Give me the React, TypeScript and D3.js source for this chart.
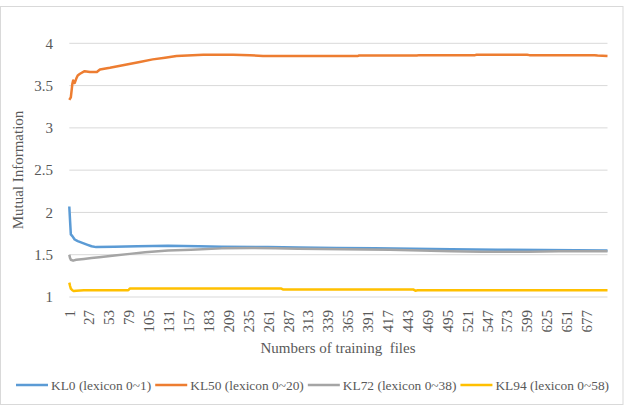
import { useRef, useEffect } from 'react';
import * as d3 from 'd3';

const kl0Files = [1, 2, 3, 5, 8, 12, 18, 24, 30, 36, 60, 90, 130, 170, 200, 260, 300, 350, 400, 450, 500, 560, 620, 704];
const kl0Values = [2.07, 1.9, 1.74, 1.72, 1.68, 1.66, 1.64, 1.62, 1.6, 1.59, 1.595, 1.6, 1.605, 1.6, 1.595, 1.59, 1.585, 1.58, 1.575, 1.57, 1.565, 1.56, 1.555, 1.55];

const kl50Files = [1, 3, 5, 6, 8, 10, 12, 15, 21, 28, 37, 41, 54, 76, 93, 110, 126, 141, 176, 215, 237, 254, 302, 378, 379, 455, 458, 531, 533, 599, 602, 687, 691, 704];
const kl50Values = [3.33, 3.36, 3.52, 3.56, 3.53, 3.58, 3.62, 3.64, 3.67, 3.66, 3.66, 3.69, 3.71, 3.75, 3.78, 3.81, 3.83, 3.85, 3.865, 3.865, 3.86, 3.85, 3.85, 3.85, 3.855, 3.855, 3.86, 3.86, 3.865, 3.865, 3.86, 3.86, 3.855, 3.85];

const kl72Files = [1, 2, 3, 6, 10, 20, 30, 40, 60, 80, 100, 130, 160, 200, 240, 270, 300, 360, 420, 460, 500, 540, 600, 640, 704];
const kl72Values = [1.5, 1.46, 1.44, 1.43, 1.44, 1.45, 1.46, 1.47, 1.49, 1.51, 1.53, 1.55, 1.56, 1.575, 1.58, 1.575, 1.57, 1.565, 1.56, 1.55, 1.54, 1.535, 1.535, 1.54, 1.54];

const kl94Files = [1, 2, 3, 5, 7, 10, 20, 78, 80, 278, 280, 450, 453, 456, 458, 704];
const kl94Values = [1.17, 1.13, 1.1, 1.08, 1.07, 1.075, 1.08, 1.08, 1.1, 1.1, 1.09, 1.09, 1.075, 1.08, 1.08, 1.08];

const seriesNames = ['KL0 (lexicon 0~1)', 'KL50 (lexicon 0~20)', 'KL72 (lexicon 0~38)', 'KL94 (lexicon 0~58)'];
const seriesColors = ['#5B9BD5', '#ED7D31', '#A5A5A5', '#FFC000'];

const yTicks = [1, 1.5, 2, 2.5, 3, 3.5, 4];
const xTicks = d3.range(1, 700, 26); // 1, 27, 53 ... 677
const fileCount = 704;

export default function App() {
  const svgRef = useRef<SVGSVGElement>(null);

  useEffect(() => {
    if (!svgRef.current) return;
    const width = 626;
    const height = 408;
    const font = "'Liberation Serif', 'DejaVu Serif', serif";
    const textColor = '#595959';

    const svg = d3.select(svgRef.current);
    svg.selectAll('*').remove();
    svg.attr('width', width).attr('height', height).style('font-family', font);

    // chart border
    svg.append('rect')
      .attr('x', 0.5).attr('y', 6.5)
      .attr('width', 622.5).attr('height', 398)
      .attr('fill', '#fff')
      .attr('stroke', '#d9d9d9');

    const x = d3.scaleLinear().domain([1, fileCount]).range([69.3, 607.5]);
    const y = d3.scaleLinear().domain([1, 4]).range([297, 43.3]);

    // grid lines
    svg.append('g')
      .selectAll('line')
      .data(yTicks)
      .enter()
      .append('line')
      .attr('x1', x(1)).attr('x2', x(fileCount))
      .attr('y1', (d) => y(d)).attr('y2', (d) => y(d))
      .attr('stroke', '#d9d9d9')
      .attr('stroke-width', 1);

    // y tick labels
    svg.append('g')
      .selectAll('text')
      .data(yTicks)
      .enter()
      .append('text')
      .attr('x', 53)
      .attr('y', (d) => y(d))
      .attr('dy', '0.35em')
      .attr('text-anchor', 'end')
      .style('font-family', font)
      .attr('font-size', '15px')
      .attr('fill', textColor)
      .text((d) => d3.format('~g')(d));

    // x tick labels (rotated)
    svg.append('g')
      .selectAll('text')
      .data(xTicks)
      .enter()
      .append('text')
      .attr('transform', (d) => `translate(${x(d)},310) rotate(-90)`)
      .attr('dy', '0.35em')
      .attr('text-anchor', 'end')
      .style('font-family', font)
      .attr('font-size', '15px')
      .attr('fill', textColor)
      .text((d) => String(d));

    // axis titles
    svg.append('text')
      .attr('transform', 'translate(23,170) rotate(-90)')
      .attr('text-anchor', 'middle')
      .style('font-family', font)
      .attr('font-size', '15px')
      .attr('fill', textColor)
      .text('Mutual Information');

    svg.append('text')
      .attr('x', 338)
      .attr('y', 353)
      .attr('text-anchor', 'middle')
      .style('font-family', font)
      .style('white-space', 'pre')
      .attr('font-size', '15px')
      .attr('fill', textColor)
      .text('Numbers of training  files');

    // series lines
    const series = [
      { files: kl0Files, values: kl0Values },
      { files: kl50Files, values: kl50Values },
      { files: kl72Files, values: kl72Values },
      { files: kl94Files, values: kl94Values },
    ];
    const line = d3.line<[number, number]>()
      .x((d) => x(d[0]))
      .y((d) => y(d[1]));

    series.forEach((s, i) => {
      const pts = s.files.map((f, j) => [f, s.values[j]] as [number, number]);
      svg.append('path')
        .datum(pts)
        .attr('d', line)
        .attr('fill', 'none')
        .attr('stroke', seriesColors[i])
        .attr('stroke-width', 2.5)
        .attr('stroke-linejoin', 'round');
    });

    // legend
    const legend = svg.append('g').attr('transform', 'translate(0,385)');
    let cx = 16;
    seriesNames.forEach((name, i) => {
      legend.append('line')
        .attr('x1', cx).attr('x2', cx + 32)
        .attr('y1', 0).attr('y2', 0)
        .attr('stroke', seriesColors[i])
        .attr('stroke-width', 2.5);
      const t = legend.append('text')
        .attr('x', cx + 35)
        .attr('y', 0)
        .attr('dy', '0.35em')
        .style('font-family', font)
        .attr('font-size', '13.4px')
        .attr('fill', textColor)
        .text(name);
      const w = (t.node() as SVGTextElement).getComputedTextLength();
      cx = cx + 35 + w + 4;
    });
  }, []);

  return (
    <svg
      ref={svgRef}
      width={626}
      height={408}
      style={{ position: 'absolute', left: 0, top: 0, background: '#fff' }}
    />
  );
}
